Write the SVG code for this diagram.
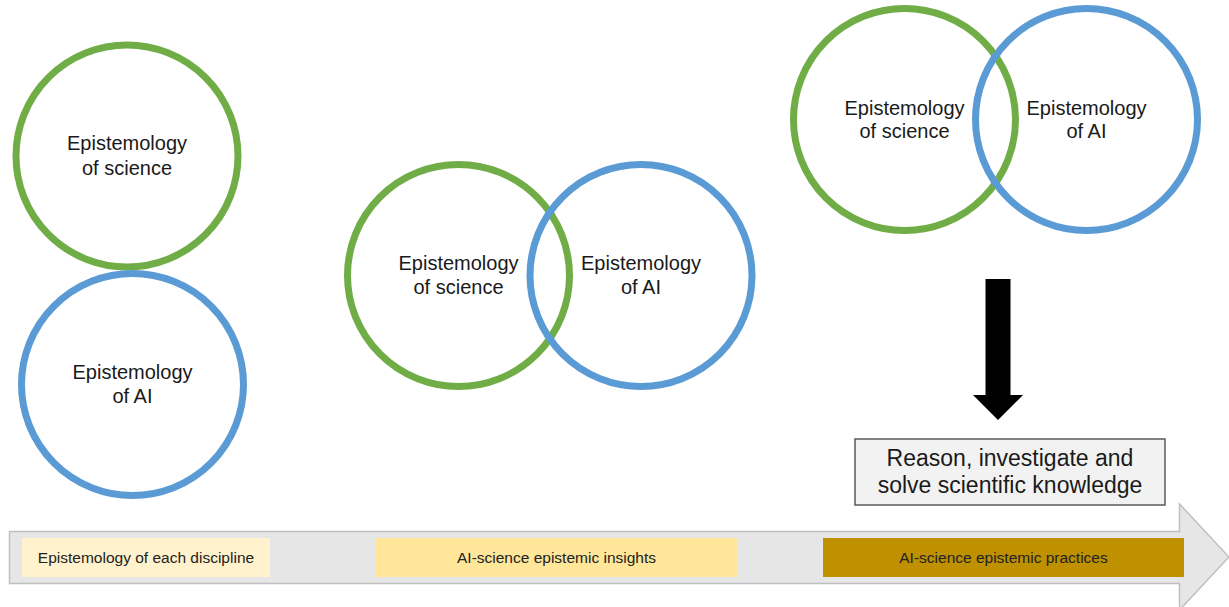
<svg xmlns="http://www.w3.org/2000/svg" width="1229" height="607" viewBox="0 0 1229 607">
<style>
.g{fill:none;stroke:#70ad47;stroke-width:7}
.b{fill:none;stroke:#5b9bd5;stroke-width:7}
.t{font-family:"Liberation Sans",Arial,sans-serif;font-size:20px;fill:#1a1a1a;text-anchor:middle}
.bt{font-family:"Liberation Sans",Arial,sans-serif;font-size:23px;fill:#1a1a1a;text-anchor:middle}
.lt{font-family:"Liberation Sans",Arial,sans-serif;font-size:15.5px;fill:#222;text-anchor:middle}
</style>
<rect width="1229" height="607" fill="#ffffff"/>
<g id="timeline">
<path d="M9.5,531.5 H1179.5 V504 L1229,557 L1179.5,610 V583.5 H9.5 Z" fill="#e6e6e6" stroke="#bfbfbf" stroke-width="1.5"/>
</g>
<g id="stage1-label">
<rect x="22" y="538" width="248" height="39" fill="#fff2cc"/>
<text class="lt" x="146" y="563">Epistemology of each discipline</text>
</g>
<g id="stage2-label">
<rect x="376" y="538" width="361" height="39" fill="#ffe699"/>
<text class="lt" x="556.5" y="563">AI-science epistemic insights</text>
</g>
<g id="stage3-label">
<rect x="823" y="538" width="361" height="39" fill="#bf9000"/>
<text class="lt" x="1003.5" y="563">AI-science epistemic practices</text>
</g>
<g id="s1-science">
<circle class="g" cx="127" cy="156" r="111"/>
<text class="t" x="127" y="150">Epistemology</text>
<text class="t" x="127" y="175">of science</text>
</g>
<g id="s1-ai">
<circle class="b" cx="132.5" cy="384.5" r="111"/>
<text class="t" x="132.5" y="379">Epistemology</text>
<text class="t" x="132.5" y="403">of AI</text>
</g>
<g id="s2-science">
<circle class="g" cx="458.5" cy="275.5" r="111"/>
<text class="t" x="458.5" y="270">Epistemology</text>
<text class="t" x="458.5" y="294">of science</text>
</g>
<g id="s2-ai">
<circle class="b" cx="641" cy="275.5" r="111"/>
<text class="t" x="641" y="270">Epistemology</text>
<text class="t" x="641" y="294">of AI</text>
</g>
<g id="s3-science">
<circle class="g" cx="904.5" cy="119.5" r="111"/>
<text class="t" x="904.5" y="115">Epistemology</text>
<text class="t" x="904.5" y="138">of science</text>
</g>
<g id="s3-ai">
<circle class="b" cx="1086.5" cy="119.5" r="111"/>
<text class="t" x="1086.5" y="115">Epistemology</text>
<text class="t" x="1086.5" y="138">of AI</text>
</g>
<g id="connectors">
<path d="M985.5,279 H1010.5 V395 H1023 L998,420 L973,395 H985.5 Z" fill="#000000"/>
</g>
<g id="result">
<rect x="855" y="439" width="310" height="66" fill="#f2f2f2" stroke="#595959" stroke-width="1.5"/>
<text class="bt" x="1010" y="466">Reason, investigate and</text>
<text class="bt" x="1010" y="493">solve scientific knowledge</text>
</g>
</svg>
